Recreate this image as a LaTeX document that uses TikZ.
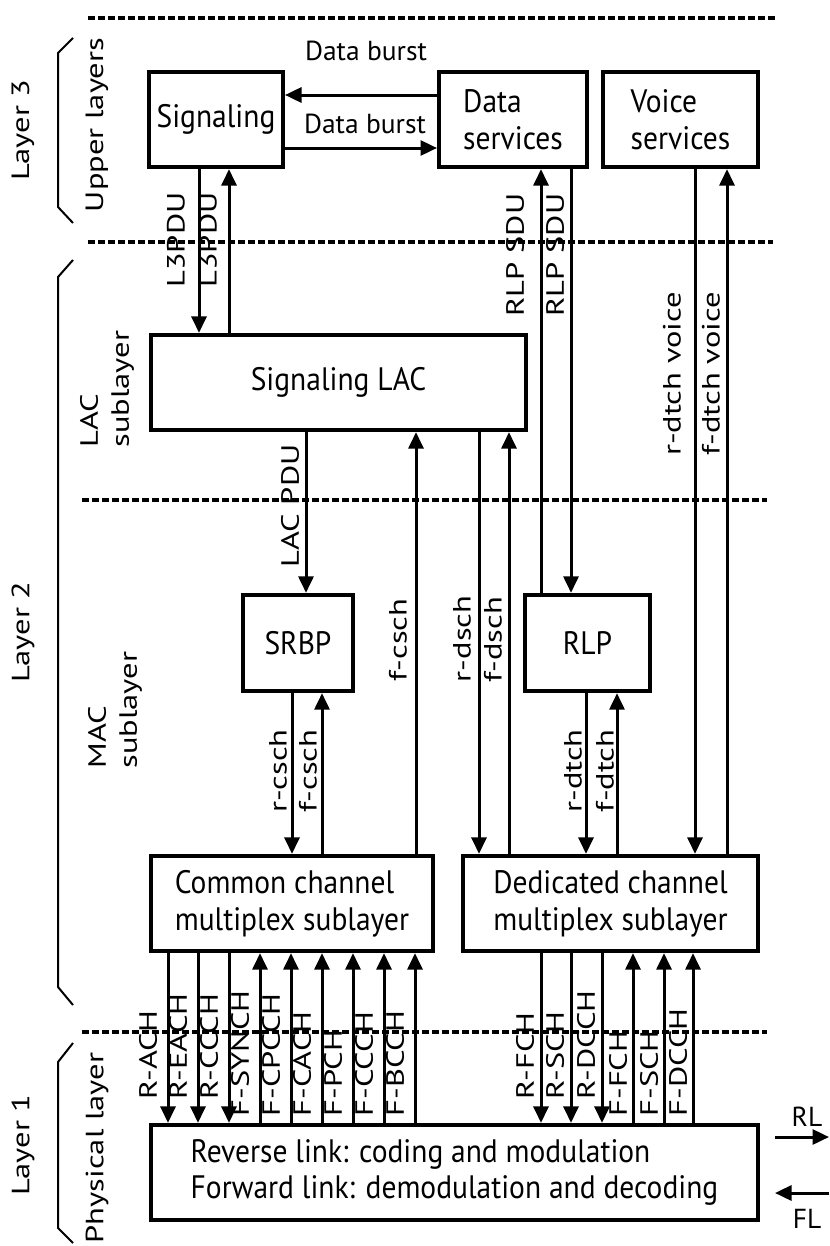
\documentclass[tikz,border=0pt]{standalone}
\usepackage{fontspec}
\setmainfont{PT Sans}
\usetikzlibrary{arrows.meta,positioning}

\begin{document}
\begin{tikzpicture}[
    x=0.4pt, y=-0.4pt,
    box/.style={draw,line width=1.6pt,inner sep=0pt,align=left,yscale=1.1,minimum height=34.5pt,font=\fontsize{11.8}{13.4}\selectfont},
    link/.style={line width=1.2pt},
    arrow/.style={link,-{Triangle[length=6.6pt,width=6pt]}},
    sep/.style={line width=1.3pt,dash pattern=on 2.8pt off 1.2pt},
    brace/.style={line width=0.8pt},
    hlbl/.style={inner sep=0pt,font=\fontsize{11}{13}\selectfont},
    lbl/.style={rotate=90,xscale=1.3,inner sep=0pt,font=\fontsize{10}{12}\selectfont},
    layer/.style={lbl,align=left,font=\fontsize{10}{12.4}\selectfont}
  ]
    \useasboundingbox (0,0) rectangle (829,1246);

    % layer separators
    \draw[sep] (88,18) -- (775,18);
    \draw[sep] (88,242) -- (773,242);
    \draw[sep] (82,500) -- (767,500);
    \draw[sep] (82,1032) -- (767,1032);

    % boxes
    \node[box,minimum width=53.6pt] (sig) at (216,119.5) {Signaling};
    \node[box,minimum width=59.2pt] (data) at (513,119.5) {Data\\services};
    \node[box,minimum width=62pt] (voice) at (680.5,119.5) {Voice\\services};
    \node[box,minimum width=150pt] (lac) at (338.5,382.5) {Signaling LAC};
    \node[box,minimum width=44pt,minimum height=34.9pt] (srbp) at (298,643) {SRBP};
    \node[box,minimum width=50pt,minimum height=34.9pt] (rlp) at (587.5,643) {RLP};
    \node[box,minimum width=112.8pt] (cmx) at (292,903.5) {Common channel\\multiplex sublayer};
    \node[box,minimum width=118pt] (dmx) at (610.5,903.5) {Dedicated channel\\multiplex sublayer};
    \node[box,minimum width=242.8pt] (phy) at (454.5,1172.5) {Reverse link: coding and modulation\\Forward link: demodulation and decoding};

    % data bursts
    \coordinate (dbu) at (0,95);
    \coordinate (dbl) at (0,148);
    \draw[arrow] (data.west |- dbu) -- (sig.east |- dbu);
    \draw[arrow] (sig.east |- dbl) -- (data.west |- dbl);
    \node[hlbl] (dbt) at (366,51) {Data burst};
    \node[hlbl] (dbb) at (365,124) {Data burst};

    % vertical links
    \coordinate (l3d) at (199,0);
    \coordinate (l3u) at (229,0);
    \coordinate (lacpdu) at (306,0);
    \coordinate (fcsch) at (416,0);
    \coordinate (rdsch) at (479,0);
    \coordinate (fdsch) at (509,0);
    \coordinate (sduu) at (541,0);
    \coordinate (sdud) at (571,0);
    \coordinate (vcd) at (695,0);
    \coordinate (vcu) at (727,0);
    \coordinate (rcsch) at (292,0);
    \coordinate (fcsch2) at (322,0);
    \coordinate (rdtch) at (586,0);
    \coordinate (fdtch) at (617,0);

    \draw[arrow] (sig.south -| l3d) -- (lac.north -| l3d);
    \draw[arrow] (lac.north -| l3u) -- (sig.south -| l3u);
    \draw[arrow] (lac.south -| lacpdu) -- (srbp.north -| lacpdu);
    \draw[arrow] (cmx.north -| fcsch) -- (lac.south -| fcsch);
    \draw[arrow] (lac.south -| rdsch) -- (dmx.north -| rdsch);
    \draw[arrow] (dmx.north -| fdsch) -- (lac.south -| fdsch);
    \draw[arrow] (rlp.north -| sduu) -- (data.south -| sduu);
    \draw[arrow] (data.south -| sdud) -- (rlp.north -| sdud);
    \draw[arrow] (voice.south -| vcd) -- (dmx.north -| vcd);
    \draw[arrow] (dmx.north -| vcu) -- (voice.south -| vcu);
    \draw[arrow] (srbp.south -| rcsch) -- (cmx.north -| rcsch);
    \draw[arrow] (cmx.north -| fcsch2) -- (srbp.south -| fcsch2);
    \draw[arrow] (rlp.south -| rdtch) -- (dmx.north -| rdtch);
    \draw[arrow] (dmx.north -| fdtch) -- (rlp.south -| fdtch);

    \node[lbl] (l3a) at (176,240) {L3PDU};
    \node[lbl] (l3b) at (208,240) {L3PDU};
    \node[lbl] (sdua) at (515,255) {RLP SDU};
    \node[lbl] (sdub) at (555,255) {RLP SDU};
    \node[lbl] (vca) at (672,374) {r-dtch voice};
    \node[lbl] (vcb) at (711,374) {f-dtch voice};
    \node[lbl] (lpdu) at (290,506) {LAC PDU};
    \node[lbl] (fcs) at (398,640) {f-csch};
    \node[lbl] (rds) at (462,639) {r-dsch};
    \node[lbl] (fds) at (493,640) {f-dsch};
    \node[lbl] (rcs) at (278,771) {r-csch};
    \node[lbl] (fcs2) at (308,771) {f-csch};
    \node[lbl] (rdt) at (573,771) {r-dtch};
    \node[lbl] (fdt) at (605,771) {f-dtch};

    % physical channels
    \foreach \x/\ch in {168/R-ACH,198/R-EACH,229/R-CCCH} {
      \coordinate (c) at (\x,0);
      \draw[arrow] (cmx.south -| c) -- (phy.north -| c);
      \node[lbl,anchor=west] (lab-\ch) at (\x-20,1100) {\ch};
    }
    \foreach \x/\ch in {260/F-SYNCH,291/F-CPCCH,322/F-CACH,353/F-PCH,384/F-CCCH,415/F-BCCH} {
      \coordinate (c) at (\x,0);
      \draw[arrow] (phy.north -| c) -- (cmx.south -| c);
      \node[lbl,anchor=west] (lab-\ch) at (\x-20,1117) {\ch};
    }
    \foreach \x/\ch in {541/R-FCH,571/R-SCH,602/R-DCCH} {
      \coordinate (c) at (\x,0);
      \draw[arrow] (dmx.south -| c) -- (phy.north -| c);
      \node[lbl,anchor=west] (lab-\ch) at (\x-16,1100) {\ch};
    }
    \foreach \x/\ch in {633/F-FCH,664/F-SCH,693/F-DCCH} {
      \coordinate (c) at (\x,0);
      \draw[arrow] (phy.north -| c) -- (dmx.south -| c);
      \node[lbl,anchor=west] (lab-\ch) at (\x-15,1117) {\ch};
    }

    % RL / FL
    \coordinate (rlfrom) at (775,1137);
    \coordinate (rlto) at (829,1137);
    \coordinate (flfrom) at (829,1193);
    \coordinate (flto) at (775,1193);
    \draw[arrow] (rlfrom) -- (rlto);
    \draw[arrow] (flfrom) -- (flto);
    \node[hlbl] (rl) at (807,1117) {RL};
    \node[hlbl] (fl) at (807,1219) {FL};

    % layer braces
    \draw[brace] (73,38) -- (58,53) -- (58,207) -- (73,223);
    \draw[brace] (73,260) -- (58,277) -- (58,987) -- (73,1005);
    \draw[brace] (73,1043) -- (58,1062) -- (58,1228) -- (73,1243);

    \node[layer] (l3) at (23,130) {Layer 3};
    \node[layer] (upper) at (97,125) {Upper layers};
    \node[layer] (l2) at (23,632) {Layer 2};
    \node[layer] (lacsub) at (107,389) {LAC\\sublayer};
    \node[layer] (macsub) at (115,710) {MAC\\sublayer};
    \node[layer] (l1) at (23,1145) {Layer 1};
    \node[layer] (physl) at (97,1148) {Physical layer};
  \end{tikzpicture}
\end{document}
